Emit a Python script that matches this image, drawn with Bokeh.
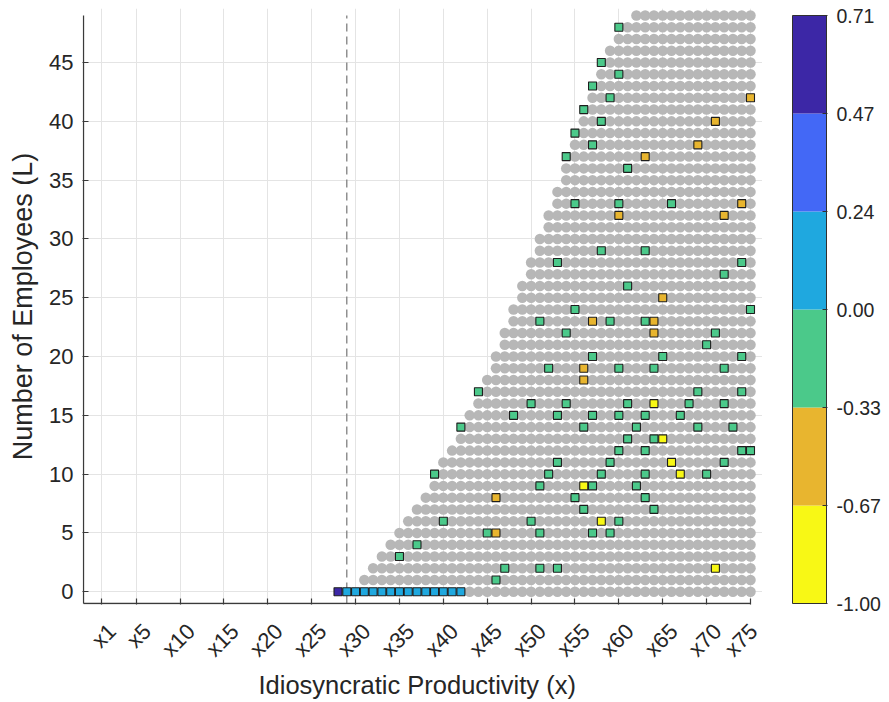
import numpy as np
from bokeh.plotting import figure
from bokeh.models import (FixedTicker, ColumnDataSource, Arrow, LinearAxis,
                          Range1d, Title)
from bokeh.layouts import row
from bokeh.embed import file_html
from bokeh.resources import INLINE

# ---- data -------------------------------------------------------------
x_max = 75
# first productivity index that hosts a firm, for L = 0 .. 49
row_start = [28, 31, 32, 33, 34, 35, 36, 37, 38, 39,
             39, 40, 41, 42, 42, 43, 44, 44, 45, 46,
             46, 47, 47, 48, 48, 49, 49, 50, 50, 51,
             51, 52, 52, 53, 53, 54, 54, 54, 55, 55,
             56, 56, 57, 57, 58, 58, 59, 60, 60, 62]

# cells with a recorded change (productivity index, employees, value)
sq_x = [28, 29, 30, 31, 32, 33, 34, 35, 36, 37, 38, 39, 40, 41, 42,  # L0
        46,                                  # L1
        47, 51, 53, 71,                      # L2
        35,                                  # L3
        37,                                  # L4
        45, 46, 51, 57, 59,                  # L5
        40, 50, 58, 60,                      # L6
        56, 64,                              # L7
        46, 55, 63,                          # L8
        51, 56, 57, 62,                      # L9
        39, 52, 58, 63, 67, 70,              # L10
        53, 59, 66, 72,                      # L11
        60, 63, 74, 75,                      # L12
        61, 64, 65,                          # L13
        42, 56, 62, 69, 73,                  # L14
        48, 53, 57, 60, 63, 67,              # L15
        50, 54, 61, 64, 68, 72,              # L16
        44, 69, 74,                          # L17
        56,                                  # L18
        52, 56, 60, 64, 72,                  # L19
        57, 65, 74,                          # L20
        70,                                  # L21
        54, 64, 71,                          # L22
        51, 57, 59, 63, 64,                  # L23
        55, 75,                              # L24
        65,                                  # L25
        61,                                  # L26
        72,                                  # L27
        53, 74,                              # L28
        58, 63,                              # L29
        60, 72,                              # L32
        55, 60, 66, 74,                      # L33
        61,                                  # L36
        54, 63,                              # L37
        57, 69,                              # L38
        55,                                  # L39
        58, 71,                              # L40
        56,                                  # L41
        59, 75,                              # L42
        57,                                  # L43
        60,                                  # L44
        58,                                  # L45
        60]                                  # L48

sq_L = ([0] * 15 + [1] + [2] * 4 + [3] + [4] + [5] * 5 + [6] * 4 + [7] * 2 +
        [8] * 3 + [9] * 4 + [10] * 6 + [11] * 4 + [12] * 4 + [13] * 3 +
        [14] * 5 + [15] * 6 + [16] * 6 + [17] * 3 + [18] + [19] * 5 +
        [20] * 3 + [21] + [22] * 3 + [23] * 5 + [24] * 2 + [25] + [26] +
        [27] + [28] * 2 + [29] * 2 + [32] * 2 + [33] * 4 + [36] + [37] * 2 +
        [38] * 2 + [39] + [40] * 2 + [41] + [42] * 2 + [43] + [44] + [45] + [48])

sq_val = [0.60, 0.12, 0.12, 0.12, 0.12, 0.12, 0.12, 0.12, 0.12, 0.12, 0.12, 0.12, 0.12, 0.12, 0.12,
          -0.15,
          -0.15, -0.15, -0.15, -0.85,
          -0.15,
          -0.15,
          -0.15, -0.50, -0.15, -0.15, -0.15,
          -0.15, -0.15, -0.85, -0.15,
          -0.15, -0.15,
          -0.50, -0.15, -0.15,
          -0.15, -0.85, -0.15, -0.15,
          -0.15, -0.15, -0.15, -0.15, -0.85, -0.15,
          -0.15, -0.15, -0.85, -0.15,
          -0.15, -0.15, -0.15, -0.15,
          -0.15, -0.15, -0.85,
          -0.15, -0.15, -0.15, -0.15, -0.15,
          -0.15, -0.15, -0.15, -0.15, -0.15, -0.15,
          -0.15, -0.15, -0.15, -0.85, -0.15, -0.15,
          -0.15, -0.15, -0.15,
          -0.50,
          -0.15, -0.50, -0.15, -0.15, -0.15,
          -0.15, -0.15, -0.15,
          -0.15,
          -0.15, -0.50, -0.15,
          -0.15, -0.50, -0.15, -0.15, -0.50,
          -0.15, -0.15,
          -0.50,
          -0.15,
          -0.15,
          -0.15, -0.15,
          -0.15, -0.15,
          -0.50, -0.50,
          -0.15, -0.15, -0.15, -0.50,
          -0.15,
          -0.15, -0.50,
          -0.15, -0.50,
          -0.15,
          -0.15, -0.50,
          -0.15,
          -0.15, -0.50,
          -0.15,
          -0.15,
          -0.15,
          -0.15]

band_edges = [-1.00, -0.67, -0.33, 0.00, 0.24, 0.47, 0.71]
band_labels = ["-1.00", "-0.67", "-0.33", "0.00", "0.24", "0.47", "0.71"]
band_colors = ["#F8F815", "#E8B52F", "#4BC98A", "#1FA8DF", "#4368F6", "#3C27A6"]

x_ticks = [1, 5, 10, 15, 20, 25, 30, 35, 40, 45, 50, 55, 60, 65, 70, 75]
y_ticks = [0, 5, 10, 15, 20, 25, 30, 35, 40, 45]
x_lim = (-1, 75)
y_lim = (-1, 49)
threshold_x = 29

FONT = "Liberation Sans"
TXT = "#262626"
AX = "#3a3a3a"

# ---- derived point sets ----------------------------------------------
marked = set(zip(sq_x, sq_L))
gx, gy = [], []
for L, k0 in enumerate(row_start):
    for k in range(k0, x_max + 1):
        if (k, L) not in marked:
            gx.append(k)
            gy.append(L)

band_idx = np.clip(np.digitize(sq_val, band_edges[1:-1]), 0, len(band_colors) - 1)
sq_color = [band_colors[i] for i in band_idx]

# ---- geometry ----------------------------------------------------------
BOX_W, BOX_H = 667, 588          # axes box in pixels
TOP, BOTTOM = 8, 98              # borders shared by both panels
PAD_LO = 1                       # keeps the hand-drawn axis lines whole
PAD_X, PAD_Y = 12, 7             # room for edge markers past the limits

px_x = BOX_W / (x_lim[1] - x_lim[0])
px_y = BOX_H / (y_lim[1] - y_lim[0])
xr = (x_lim[0] - PAD_LO / px_x, x_lim[1] + PAD_X / px_x)
yr = (y_lim[0] - PAD_LO / px_y, y_lim[1] + PAD_Y / px_y)

# ---- main axes -------------------------------------------------------
p = figure(x_range=xr, y_range=yr,
           frame_width=BOX_W + PAD_LO + PAD_X,
           frame_height=BOX_H + PAD_LO + PAD_Y,
           min_border_left=82, min_border_right=0,
           min_border_top=TOP, min_border_bottom=BOTTOM,
           output_backend="svg", toolbar_location=None)
p.outline_line_color = None
p.background_fill_color = "white"
p.border_fill_color = "white"

p.xgrid.ticker = FixedTicker(ticks=x_ticks)
p.ygrid.ticker = FixedTicker(ticks=y_ticks)
for g in (p.xgrid, p.ygrid):
    g.grid_line_color = "#e4e4e4"
    g.grid_line_width = 1

# bottom axis: tick marks only
xa = p.xaxis[0]
xa.ticker = FixedTicker(ticks=[], minor_ticks=x_ticks)
xa.axis_line_color = None
xa.major_tick_line_color = None
xa.minor_tick_line_color = AX
xa.minor_tick_line_width = 1.2
xa.minor_tick_in = 6
xa.minor_tick_out = 0

# slanted tick labels sit on a companion axis nudged to the right
LAB_SHIFT = 11
p.extra_x_ranges = {"lab": Range1d(xr[0] - LAB_SHIFT / px_x,
                                   xr[1] - LAB_SHIFT / px_x)}
la = LinearAxis(x_range_name="lab", ticker=FixedTicker(ticks=x_ticks),
                major_label_overrides={t: f"x{t}" for t in x_ticks},
                major_label_orientation=np.pi / 4)
la.axis_line_color = None
la.major_tick_line_color = None
la.minor_tick_line_color = None
la.major_label_standoff = 17
p.add_layout(la, "below")

ya = p.yaxis[0]
ya.ticker = FixedTicker(ticks=y_ticks)
ya.axis_line_color = None
ya.major_tick_line_color = AX
ya.major_tick_line_width = 1.2
ya.major_tick_in = 6
ya.major_tick_out = 0
ya.minor_tick_line_color = None
ya.major_label_standoff = 9
ya.axis_label_standoff = 8

for ax in (la, ya):
    ax.major_label_text_font = FONT
    ax.major_label_text_font_size = "22px"
    ax.major_label_text_color = TXT
    ax.axis_label_text_font = FONT
    ax.axis_label_text_font_style = "normal"
    ax.axis_label_text_color = TXT
ya.axis_label = "Number of Employees (L)"
ya.axis_label_text_font_size = "27px"

# x-axis title: its left edge is placed so the text is centred on the
# axes box rather than on the padded frame
XLABEL = "Idiosyncratic Productivity (x)"
XLABEL_PX = 25.5
XLABEL_EM = 12.45                 # advance width of XLABEL in em
xlabel_offset = int(round(BOX_W / 2 + PAD_LO - XLABEL_EM * XLABEL_PX / 2))
p.add_layout(Title(text=XLABEL, align="left", offset=xlabel_offset,
                   standoff=-10, text_font=FONT,
                   text_font_size=f"{XLABEL_PX}px",
                   text_font_style="normal", text_color=TXT), "below")

# axis lines
for xs, ys, xe, ye in ((x_lim[0], y_lim[0], x_lim[1], y_lim[0]),
                       (x_lim[0], y_lim[0], x_lim[0], y_lim[1])):
    p.add_layout(Arrow(end=None, x_start=xs, y_start=ys, x_end=xe, y_end=ye,
                       line_color=AX, line_width=1.3))

# productivity cut-off
p.segment(x0=[threshold_x], y0=[y_lim[0]], x1=[threshold_x], y1=[y_lim[1]],
          line_color="#7f7f7f", line_width=1.3, line_dash="8 5")

p.scatter(gx, gy, marker="circle", size=10.5,
          fill_color="#b7b7b7", line_color=None)

src = ColumnDataSource(dict(x=sq_x, y=sq_L, c=sq_color, v=sq_val))
p.scatter("x", "y", source=src, marker="square", size=8,
          fill_color="c", line_color="#1e1e1e", line_width=1.1)

# ---- colour bar ------------------------------------------------------
n_band = len(band_colors)
CB_W = 34
px_cb = BOX_H / n_band
cb = figure(x_range=(-1 / CB_W, 1 + 1 / CB_W),
            y_range=(-PAD_LO / px_cb, n_band + PAD_Y / px_cb),
            frame_width=CB_W + 2, frame_height=BOX_H + PAD_LO + PAD_Y,
            min_border_left=29, min_border_right=62,
            min_border_top=TOP, min_border_bottom=BOTTOM,
            output_backend="svg", toolbar_location=None,
            x_axis_location=None, y_axis_location="right")
cb.grid.visible = False
cb.outline_line_color = None
cb.quad(left=0, right=1,
        bottom=list(range(n_band)), top=list(range(1, n_band + 1)),
        fill_color=band_colors, line_color=None)
cb.quad(left=[0], right=[1], bottom=[0], top=[n_band],
        fill_color=None, line_color="#303030", line_width=1)
ca = cb.yaxis[0]
ca.ticker = FixedTicker(ticks=list(range(len(band_labels))))
ca.major_label_overrides = {i: s for i, s in enumerate(band_labels)}
ca.axis_line_color = None
ca.major_tick_line_color = "#303030"
ca.major_tick_in = 5
ca.major_tick_out = 0
ca.minor_tick_line_color = None
ca.major_label_text_font = FONT
ca.major_label_text_font_size = "19.5px"
ca.major_label_text_color = TXT
ca.major_label_standoff = 9

layout = row(p, cb)
open("out.html", "w").write(file_html(layout, INLINE))
